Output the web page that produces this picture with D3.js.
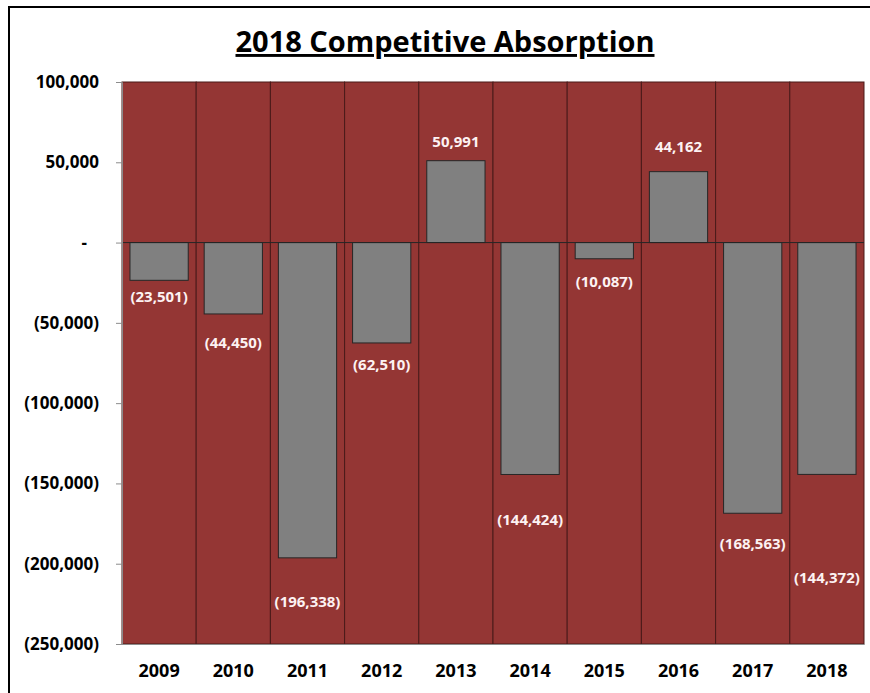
<!DOCTYPE html>
<html>
<head>
<meta charset="utf-8">
<script src="https://cdn.jsdelivr.net/npm/d3@7"></script>
<style>
  body { margin: 0; background: #fff; }
  svg { display: block; font-family: "Open Sans", sans-serif; }
</style>
</head>
<body>
<div id="chart"></div>
<script>
// Data
const years = ["2009", "2010", "2011", "2012", "2013", "2014", "2015", "2016", "2017", "2018"];
const absorption = [-23501, -44450, -196338, -62510, 50991, -144424, -10087, 44162, -168563, -144372];
const yTicks = [100000, 50000, 0, -50000, -100000, -150000, -200000, -250000];

const width = 870;
const height = 693;
const m = { top: 82, right: 6, bottom: 49, left: 122 };

// label nudges (px) away from bar end, as placed in the original
const labelNudge = [16, 29, 44, 22, 19, 45, 23, 25, 31, 103];

const svg = d3.select("#chart").append("svg")
    .attr("width", width)
    .attr("height", height);

// outer frame
svg.append("rect")
    .attr("x", 9).attr("y", 7)
    .attr("width", width + 10).attr("height", height + 10)
    .attr("fill", "none")
    .attr("stroke", "#000")
    .attr("stroke-width", 2);

// Title
svg.append("text")
    .attr("x", 445)
    .attr("y", 52)
    .attr("text-anchor", "middle")
    .attr("font-size", "29px")
    .attr("font-weight", "bold")
    .attr("text-decoration", "underline")
    .attr("fill", "#000")
    .text("2018 Competitive Absorption");

// Scales
const x = d3.scaleBand()
    .domain(years)
    .range([m.left, width - m.right])
    .paddingInner(0)
    .paddingOuter(0);

const y = d3.scaleLinear()
    .domain([-250000, 100000])
    .range([height - m.bottom, m.top]);

// background columns (red, full height)
svg.append("g").selectAll("rect")
    .data(years)
    .join("rect")
    .attr("x", d => x(d))
    .attr("y", y(100000))
    .attr("width", x.bandwidth())
    .attr("height", y(-250000) - y(100000))
    .attr("fill", "#943634")
    .attr("stroke", "#4a1a19")
    .attr("stroke-width", 1);

// bars
const barPad = 0.215;
const bw = x.bandwidth() * (1 - barPad);
svg.append("g").selectAll("rect")
    .data(years.map((yr, i) => ({ yr, v: absorption[i], i })))
    .join("rect")
    .attr("x", d => x(d.yr) + (x.bandwidth() - bw) / 2)
    .attr("y", d => y(Math.max(0, d.v)))
    .attr("width", bw)
    .attr("height", d => Math.abs(y(d.v) - y(0)))
    .attr("fill", "#808080")
    .attr("stroke", "#262626")
    .attr("stroke-width", 1);

// zero line
svg.append("line")
    .attr("x1", m.left).attr("x2", width - m.right)
    .attr("y1", y(0)).attr("y2", y(0))
    .attr("stroke", "#262626")
    .attr("stroke-width", 1);

// y axis
const fmt = d => d === 0 ? "-" : (d < 0 ? `(${d3.format(",")(-d)})` : d3.format(",")(d));
const yAxis = svg.append("g")
    .attr("transform", `translate(${m.left},0)`)
    .call(d3.axisLeft(y).tickValues(yTicks).tickFormat(fmt).tickSize(6).tickPadding(17));
yAxis.select(".domain").attr("stroke", "#8c8c8c");
yAxis.selectAll(".tick line").attr("stroke", "#8c8c8c");
yAxis.selectAll(".tick text")
    .attr("font-size", "17px")
    .attr("font-weight", "bold")
    .attr("fill", "#000")
    .attr("font-family", "'Open Sans', sans-serif");
yAxis.selectAll(".tick text").filter(d => d === 0).attr("dx", "-12px");

// x axis
const xAxis = svg.append("g")
    .attr("transform", `translate(0,${height - m.bottom})`)
    .call(d3.axisBottom(x).tickSize(0).tickPadding(20));
xAxis.select(".domain").attr("stroke", "#8c8c8c");
xAxis.selectAll(".tick text")
    .attr("font-size", "18px")
    .attr("font-weight", "bold")
    .attr("fill", "#000")
    .attr("font-family", "'Open Sans', sans-serif");

// value labels
svg.append("g").selectAll("text")
    .data(years.map((yr, i) => ({ yr, v: absorption[i], i })))
    .join("text")
    .attr("x", d => x(d.yr) + x.bandwidth() / 2)
    .attr("y", d => d.v < 0 ? y(d.v) + labelNudge[d.i] : y(d.v) - labelNudge[d.i])
    .attr("dy", "0.35em")
    .attr("text-anchor", "middle")
    .attr("font-size", "15px")
    .attr("font-weight", "bold")
    .attr("fill", "#fdf2f2")
    .text(d => fmt(d.v));
</script>
</body>
</html>
